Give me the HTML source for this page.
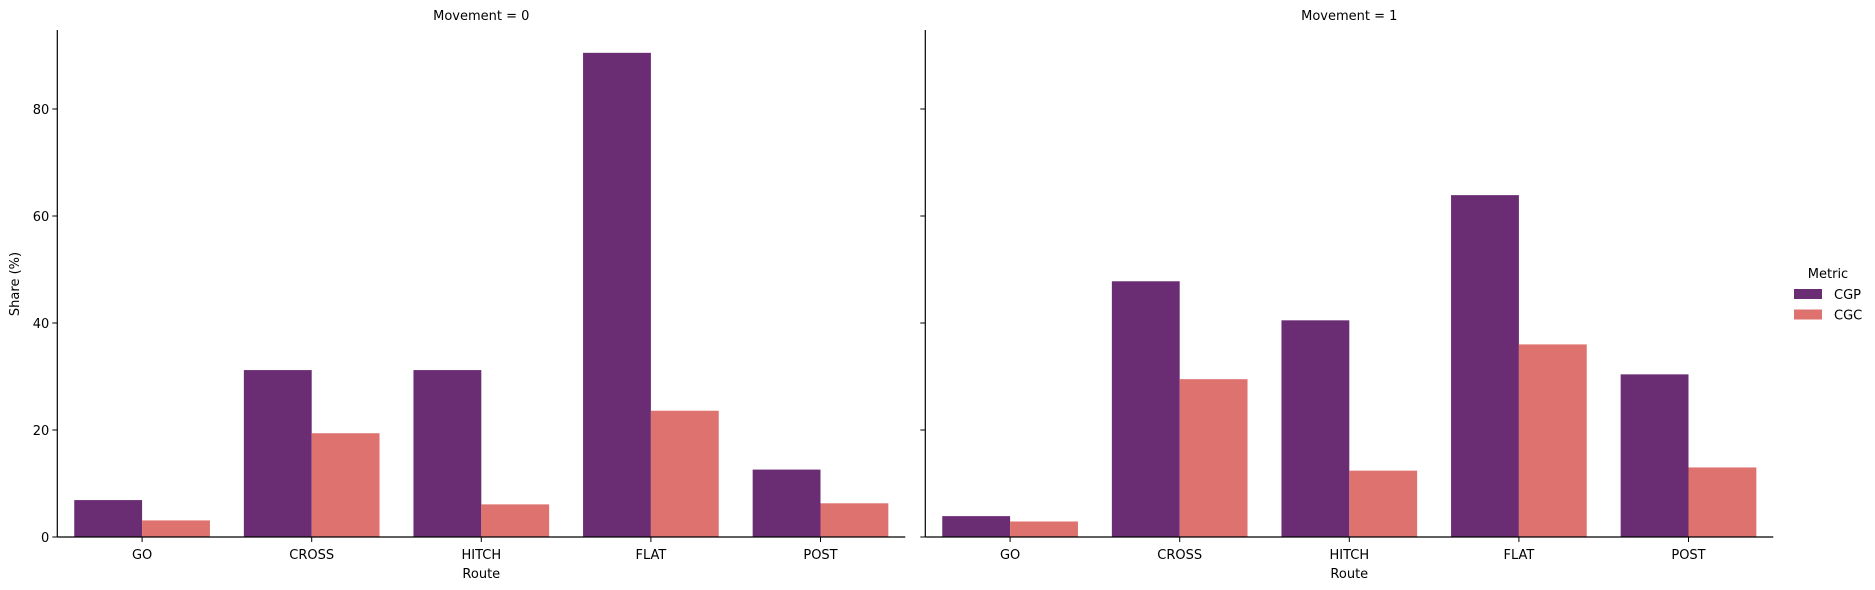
<!DOCTYPE html>
<html><head><meta charset="utf-8"><style>
body{margin:0;background:#fff;}
svg{display:block;font-family:"DejaVu Sans","Liberation Sans",sans-serif;}
</style></head><body>
<svg id="c" width="1875" height="590"></svg>
<script>
const categories=["GO","CROSS","HITCH","FLAT","POST"];
const panels=["Movement = 0","Movement = 1"];
const cgp0=[6.9,31.2,31.2,90.5,12.6];
const cgc0=[3.1,19.4,6.1,23.6,6.3];
const cgp1=[3.9,47.8,40.5,63.9,30.4];
const cgc1=[2.9,29.5,12.4,36.0,13.0];
const yTicks=[0,20,40,60,80];
const seriesNames=["CGP","CGC"];
const colors=["#6a2c73","#de726f"];
const svg=document.getElementById('c');
const NS="http://www.w3.org/2000/svg";
function mk(t,a,p){const e=document.createElementNS(NS,t);for(const k in a)e.setAttribute(k,a[k]);(p||svg).appendChild(e);return e;}
const y0=537,ppu=107/20,yTop=30;
function y(v){return y0-v*ppu;}
const panelX=[57.3,925.3],pw=848;
const data=[[cgp0,cgc0],[cgp1,cgc1]];
panels.forEach((title,pi)=>{
  const g=mk('g',{});
  
  
  const x0=panelX[pi],step=pw/categories.length,bw=step*0.4;
  data[pi].forEach((vals,si)=>{
    vals.forEach((v,ci)=>{
      const cx=x0+step*(ci+0.5);
      const r=mk('rect',{x:cx-bw+si*bw,y:y(v),width:bw,height:y0-y(v),fill:colors[si]},g);
      
      
    });
  });
  const ax=mk('line',{x1:x0,y1:yTop,x2:x0,y2:y0,stroke:'#000','stroke-width':1.2},g);
  
  
  const bx=mk('line',{x1:x0,y1:y0,x2:x0+pw,y2:y0,stroke:'#000','stroke-width':1.2},g);
  
  
  yTicks.forEach(t=>{
    mk('line',{x1:x0-5,y1:y(t),x2:x0,y2:y(t),stroke:'#000','stroke-width':1},g);
    if(pi===0){const tx=mk('text',{x:x0-8,y:y(t)+5,'text-anchor':'end','font-size':13,fill:'#000'},g);tx.textContent=t;
      
      }
  });
  categories.forEach((c,ci)=>{
    const cx=x0+step*(ci+0.5);
    mk('line',{x1:cx,y1:y0,x2:cx,y2:y0+5,stroke:'#000','stroke-width':1},g);
    const tx=mk('text',{x:cx,y:y0+22,'text-anchor':'middle','font-size':13,fill:'#000'},g);tx.textContent=c;
    
    
  });
  const xt=mk('text',{x:x0+pw/2,y:578,'text-anchor':'middle','font-size':13,fill:'#000'},g);xt.textContent='Route';
  
  
  const tt=mk('text',{x:x0+pw/2,y:20,'text-anchor':'middle','font-size':13,fill:'#000'},g);tt.textContent=title;
  
  
});
const yl=mk('text',{x:19,y:284,'text-anchor':'middle','font-size':13,fill:'#000',transform:'rotate(-90 19 284)'});yl.textContent='Share (%)';


const lg=mk('g',{});


const lt=mk('text',{x:1828,y:278,'text-anchor':'middle','font-size':13,fill:'#000'},lg);lt.textContent='Metric';


seriesNames.forEach((n,i)=>{
  const yy=289+i*20.5;
  const r=mk('rect',{x:1794,y:yy,width:28,height:10,fill:colors[i]},lg);
  
  
  const t=mk('text',{x:1834,y:yy+10,'font-size':13,fill:'#000'},lg);t.textContent=n;
  
  
});
</script>
</body></html>
